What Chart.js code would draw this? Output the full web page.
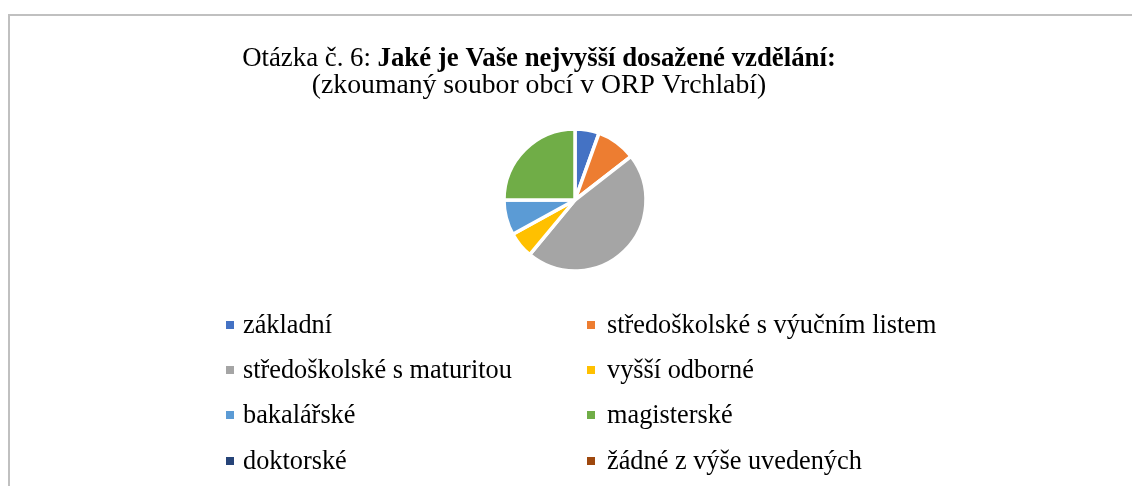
<!DOCTYPE html>
<html>
<head>
<meta charset="utf-8">
<script src="https://cdn.jsdelivr.net/npm/chart.js@4"></script>
<style>
    html, body { margin: 0; padding: 0; background: #fff; }
    #wrap { position: relative; width: 1132px; height: 486px; overflow: hidden; }
    #frame {
        position: absolute; left: 8px; top: 14px; width: 1200px; height: 600px;
        border-top: 2px solid #c0c0c0; border-left: 2px solid #c0c0c0;
    }
    #chart { position: absolute; left: 0; top: 0; }
    #legend {
        position: absolute; left: 226px; top: 302px;
        display: grid; grid-template-columns: 361px 361px; grid-auto-rows: 45.3px;
        font-family: "Liberation Serif", "Times New Roman", serif; font-size: 26.3px; color: #000;
    }
    #legend .item { display: flex; align-items: center; white-space: nowrap; }
    #legend .box { width: 8px; height: 8px; margin-right: 9px; }
    #legend .item:nth-child(even) .box { margin-right: 12px; }
</style>
</head>
<body>
<div id="wrap">
    <div id="frame"></div>
    <canvas id="chart" width="1132" height="486"></canvas>
    <div id="legend"></div>
</div>
<script>
    const categories = [
        'základní',
        'středoškolské s výučním listem',
        'středoškolské s maturitou',
        'vyšší odborné',
        'bakalářské',
        'magisterské',
        'doktorské',
        'žádné z výše uvedených'
    ];
    // podíl odpovědí v %
    const shares = [5.5, 9, 46.5, 6, 8, 25, 0, 0];
    const colors = ['#4472C4', '#ED7D31', '#A5A5A5', '#FFC000', '#5B9BD5', '#70AD47', '#264478', '#9E480E'];

    const titleNormal = 'Otázka č. 6: ';
    const titleBold = 'Jaké je Vaše nejvyšší dosažené vzdělání:';
    const subtitle = '(zkoumaný soubor obcí v ORP Vrchlabí)';

    // title with mixed normal/bold text
    const titlePlugin = {
        id: 'mixedTitle',
        afterDraw(chart) {
            const ctx = chart.ctx;
            const cx = 539;
            ctx.save();
            ctx.fillStyle = '#000';
            ctx.textBaseline = 'alphabetic';
            const fNormal = '26.8px "Liberation Serif", serif';
            const fBold = 'bold 26.8px "Liberation Serif", serif';
            ctx.font = fNormal;
            const w1 = ctx.measureText(titleNormal).width;
            ctx.font = fBold;
            const w2 = ctx.measureText(titleBold).width;
            let x = cx - (w1 + w2) / 2;
            ctx.textAlign = 'left';
            ctx.font = fNormal;
            ctx.fillText(titleNormal, x, 66);
            ctx.font = fBold;
            ctx.fillText(titleBold, x + w1, 66);
            ctx.font = '27.7px "Liberation Serif", serif';
            ctx.textAlign = 'center';
            ctx.fillText(subtitle, cx, 93);
            ctx.restore();
        }
    };

    const ctx = document.getElementById('chart').getContext('2d');
    const chart = new Chart(ctx, {
        type: 'pie',
        data: {
            labels: categories,
            datasets: [{
                data: shares,
                backgroundColor: colors,
                borderColor: '#ffffff',
                borderWidth: 3.5
            }]
        },
        options: {
            responsive: false,
            animation: false,
            radius: 71,
            layout: { padding: { top: 129, bottom: 215, left: 504, right: 486 } },
            plugins: {
                legend: { display: false },
                title: { display: false },
                tooltip: { enabled: false }
            }
        },
        plugins: [titlePlugin]
    });

    // legend in two columns, like the original
    const legendEl = document.getElementById('legend');
    chart.options.plugins.legend.labels.generateLabels(chart).forEach(item => {
        const div = document.createElement('div');
        div.className = 'item';
        const box = document.createElement('span');
        box.className = 'box';
        box.style.background = item.fillStyle;
        const txt = document.createElement('span');
        txt.textContent = item.text;
        div.appendChild(box);
        div.appendChild(txt);
        legendEl.appendChild(div);
    });
</script>
</body>
</html>
